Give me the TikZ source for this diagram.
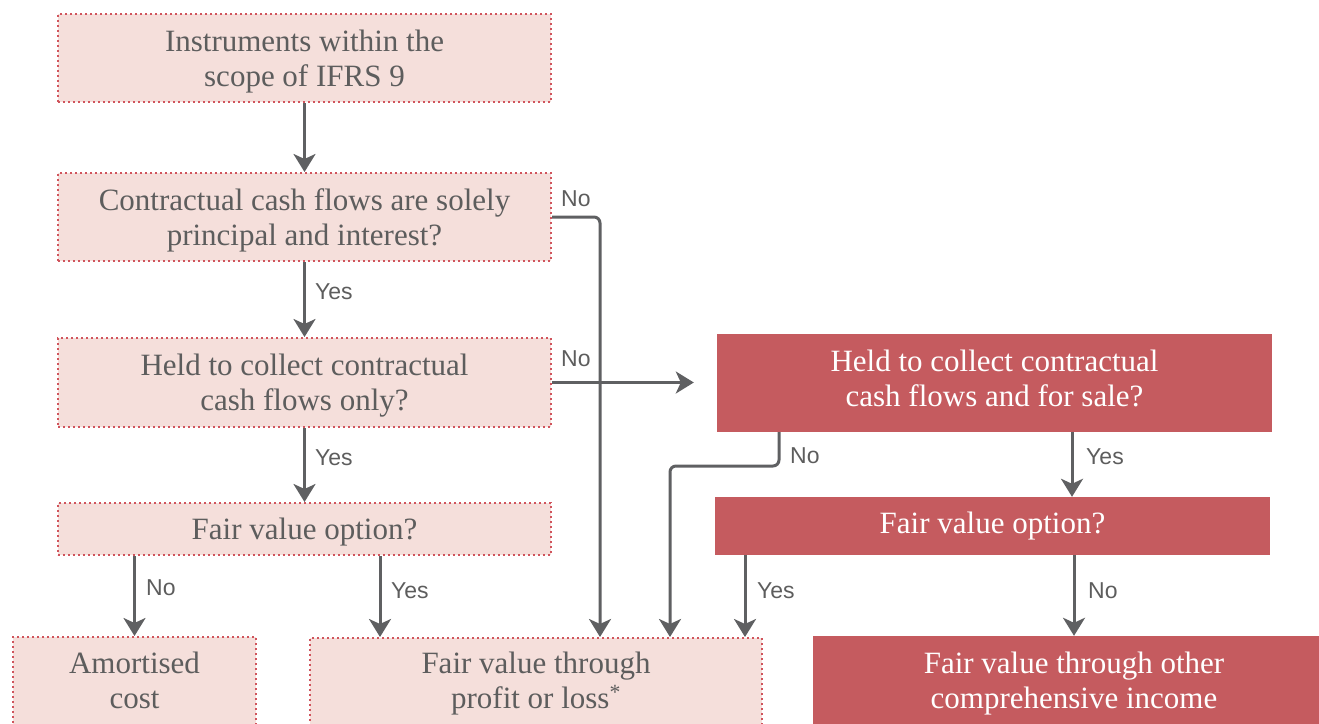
\documentclass[tikz,border=0pt]{standalone}
\usepackage{fontspec}
\setmainfont{Liberation Serif}
\newfontfamily\labfont{Liberation Sans}
\usetikzlibrary{arrows.meta,calc}
\definecolor{lightfill}{HTML}{F5DFDB}
\definecolor{dotred}{HTML}{D0545C}
\definecolor{darkfill}{HTML}{C55B5F}
\definecolor{txtgray}{HTML}{5D5D5D}
\definecolor{arrgray}{HTML}{5F6062}
\tikzset{
  lbox/.style={fill=lightfill, draw=dotred, line width=2pt, dash pattern=on 1.6pt off 3.4pt, inner sep=0pt},
  dbox/.style={fill=darkfill, draw=none, inner sep=0pt},
  ltxt/.style={text=txtgray, font=\fontsize{31}{35}\selectfont, align=center, inner sep=0pt},
  dtxt/.style={text=white, font=\fontsize{31}{35}\selectfont, align=center, inner sep=0pt},
  arr/.style={draw=arrgray, line width=3pt, -{Stealth[length=18pt,width=22pt,inset=5pt]}},
  lab/.style={text=txtgray, font=\labfont\fontsize{23}{27}\selectfont, inner sep=0pt, anchor=west}
}
\begin{document}
\begin{tikzpicture}[x=1pt,y=-1pt]
\useasboundingbox (0,0) rectangle (1319,723);
\clip (0,0) rectangle (1319,723);
% boxes
\node[lbox, minimum width=493pt, minimum height=88pt] (b1) at (304.5,58) {};
\node[lbox, minimum width=493pt, minimum height=88pt] (b2) at (304.5,217) {};
\node[lbox, minimum width=493pt, minimum height=89pt] (b3) at (304.5,382.5) {};
\node[lbox, minimum width=493pt, minimum height=52pt] (b5) at (304.5,529) {};
\node[dbox, minimum width=555pt, minimum height=98pt] (b4) at (994.5,383) {};
\node[dbox, minimum width=555pt, minimum height=58pt] (b6) at (992.5,526) {};
\node[lbox, minimum width=243pt, minimum height=90pt] (b8) at (134.5,682) {};
\node[lbox, minimum width=452pt, minimum height=90pt] (b7) at (536,683) {};
\node[dbox, minimum width=522pt, minimum height=90pt] (b9) at (1074,681) {};
% texts
\node[ltxt] (t1) at ([yshift=-4pt]b1.center) {Instruments within the\\scope of IFRS 9};
\node[ltxt] (t2) at ([yshift=-3.5pt]b2.center) {Contractual cash flows are solely\\principal and interest?};
\node[ltxt] (t3) at ([yshift=-3.5pt]b3.center) {Held to collect contractual\\cash flows only?};
\node[ltxt] (t5) at ([yshift=-3.5pt]b5.center) {Fair value option?};
\node[dtxt] (t4) at ([yshift=4.5pt]b4.center) {Held to collect contractual\\cash flows and for sale?};
\node[dtxt] (t6) at ([yshift=0pt]b6.center) {Fair value option?};
\node[ltxt] (t8) at ([yshift=1.5pt]b8.center) {Amortised\\cost};
\node[ltxt] (t7) at ([yshift=-0.5pt]b7.center) {Fair value through\\profit or loss\textsuperscript{*}};
\node[dtxt] (t9) at ([yshift=-2.5pt]b9.center) {Fair value through other\\comprehensive income};
% helper coordinates
\coordinate (xno1) at (600,0);
\coordinate (kno2) at (779,466);
\coordinate (xno2) at (670,0);
\coordinate (xy5) at (380,0);
\coordinate (xy6) at (745,0);
\coordinate (xy4) at (1072,0);
% connectors
\draw[arr] (b1.south) -- (b2.north);
\draw[arr] (b2.south) -- (b3.north);
\draw[arr] (b3.south) -- (b5.north);
\draw[arr, rounded corners=6pt] (b2.east) -| (b7.north -| xno1);
\draw[arr, shorten >=23pt] (b3.east) -- (b3.east -| b4.west);
\draw[arr, rounded corners=6pt] (b4.south -| kno2) -- (kno2) -| (b7.north -| xno2);
\draw[arr] (b4.south -| xy4) -- (b6.north -| xy4);
\draw[arr] (b5.south -| b8.north) -- (b8.north);
\draw[arr] (b5.south -| xy5) -- (b7.north -| xy5);
\draw[arr] (b6.south -| xy6) -- (b7.north -| xy6);
\draw[arr] (b6.south -| b9.north) -- (b9.north);
% labels
\node[lab] (l1) at (561,199) {No};
\node[lab] (l2) at (315,292) {Yes};
\node[lab] (l3) at (561,359) {No};
\node[lab] (l4) at (315,458) {Yes};
\node[lab] (l5) at (790,456) {No};
\node[lab] (l6) at (1086,457) {Yes};
\node[lab] (l7) at (146,588) {No};
\node[lab] (l8) at (391,591) {Yes};
\node[lab] (l9) at (757,591) {Yes};
\node[lab] (l10) at (1088,591) {No};
\end{tikzpicture}
\end{document}
